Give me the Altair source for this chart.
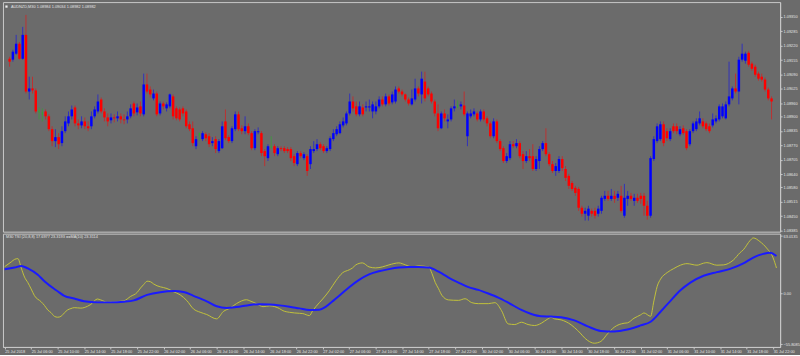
import altair as alt
import pandas as pd

title_main = "AUDNZD,M30  1.08984 1.09034 1.08982 1.08982"
title_ind = "M30 TSI (20,8,8) 17.6977 23.3193   ==MA(10) 23.3114"

x_labels = ["25 Jul 2018", "25 Jul 06:00", "25 Jul 10:00", "25 Jul 14:00", "25 Jul 18:00", "25 Jul 22:00",
            "26 Jul 02:00", "26 Jul 06:00", "26 Jul 10:00", "26 Jul 14:00", "26 Jul 18:00", "26 Jul 22:00",
            "27 Jul 02:00", "27 Jul 06:00", "27 Jul 10:00", "27 Jul 14:00", "27 Jul 18:00", "27 Jul 22:00",
            "30 Jul 02:00", "30 Jul 06:00", "30 Jul 10:00", "30 Jul 14:00", "30 Jul 18:00", "30 Jul 22:00",
            "31 Jul 02:00", "31 Jul 06:00", "31 Jul 10:00", "31 Jul 14:00", "31 Jul 18:00", "31 Jul 22:00"]

price_ticks = [1.09350, 1.09285, 1.09220, 1.09155, 1.09090, 1.09025, 1.08960, 1.08900,
               1.08835, 1.08770, 1.08705, 1.08640, 1.08580, 1.08515, 1.08450, 1.08385]
ind_ticks = [63.0135, 0.0, -55.8085]

opens = [
 1.09161, 1.09157, 1.09184, 1.09229, 1.09161, 1.09269, 1.09013, 1.09027, 1.09018, 1.08923,
 1.08914, 1.08923, 1.08901, 1.08843, 1.08789, 1.08807, 1.08780, 1.08834, 1.08869, 1.08901,
 1.08941, 1.08869, 1.08860, 1.08878, 1.08856, 1.08856, 1.08901, 1.08923, 1.08977, 1.08923,
 1.08896, 1.08883, 1.08896, 1.08892, 1.08901, 1.08887, 1.08887, 1.08901, 1.08959, 1.08919,
 1.08946, 1.08910, 1.09045, 1.09022, 1.08982, 1.09004, 1.08914, 1.08959, 1.08937, 1.08946,
 1.08991, 1.08937, 1.08932, 1.08937, 1.08923, 1.08865, 1.08847, 1.08766, 1.08820, 1.08798,
 1.08820, 1.08811, 1.08780, 1.08798, 1.08744, 1.08757, 1.08878, 1.08807, 1.08789, 1.08843,
 1.08910, 1.08847, 1.08834, 1.08856, 1.08825, 1.08757, 1.08829, 1.08825, 1.08744, 1.08712,
 1.08762, 1.08766, 1.08730, 1.08757, 1.08757, 1.08753, 1.08753, 1.08721, 1.08685, 1.08735,
 1.08712, 1.08721, 1.08685, 1.08744, 1.08753, 1.08775, 1.08766, 1.08744, 1.08753, 1.08798,
 1.08820, 1.08825, 1.08860, 1.08869, 1.08914, 1.08968, 1.08946, 1.08910, 1.08941, 1.08941,
 1.08941, 1.08923, 1.08923, 1.08946, 1.08977, 1.08955, 1.08991, 1.08964, 1.08968, 1.09027,
 1.09013, 1.09000, 1.08977, 1.08955, 1.08977, 1.09027, 1.09000, 1.09058, 1.09027, 1.09004,
 1.08968, 1.08914, 1.08847, 1.08914, 1.08878, 1.08887, 1.08937, 1.08946, 1.08946, 1.08950,
 1.08811, 1.08901, 1.08910, 1.08914, 1.08887, 1.08923, 1.08892, 1.08869, 1.08811, 1.08878,
 1.08789, 1.08757, 1.08699, 1.08712, 1.08775, 1.08766, 1.08780, 1.08730, 1.08699, 1.08721,
 1.08721, 1.08663, 1.08699, 1.08753, 1.08780, 1.08730, 1.08685, 1.08654, 1.08654, 1.08708,
 1.08663, 1.08632, 1.08600, 1.08578, 1.08573, 1.08488, 1.08461, 1.08452, 1.08474, 1.08474,
 1.08461, 1.08474, 1.08528, 1.08542, 1.08528, 1.08542, 1.08533, 1.08542, 1.08452, 1.08528,
 1.08542, 1.08519, 1.08533, 1.08542, 1.08542, 1.08497, 1.08452, 1.08708, 1.08789, 1.08798,
 1.08865, 1.08834, 1.08798, 1.08856, 1.08856, 1.08820, 1.08847, 1.08834, 1.08775, 1.08834,
 1.08843, 1.08869, 1.08878, 1.08869, 1.08856, 1.08860, 1.08878, 1.08887, 1.08901, 1.08892,
 1.08955, 1.08982, 1.09027, 1.09013, 1.09157, 1.09152, 1.09188, 1.09139, 1.09125, 1.09094,
 1.09080, 1.09067, 1.09022, 1.08982]

closes = [
 1.09148, 1.09193, 1.09229, 1.09161, 1.09269, 1.09013, 1.09027, 1.09018, 1.08923, 1.08923,
 1.08914, 1.08901, 1.08843, 1.08789, 1.08807, 1.08775, 1.08834, 1.08878, 1.08901, 1.08932,
 1.08869, 1.08860, 1.08878, 1.08856, 1.08847, 1.08901, 1.08932, 1.08968, 1.08923, 1.08896,
 1.08878, 1.08896, 1.08892, 1.08901, 1.08887, 1.08883, 1.08901, 1.08937, 1.08914, 1.08941,
 1.08914, 1.09045, 1.09013, 1.09000, 1.09004, 1.08910, 1.08959, 1.08946, 1.08955, 1.09000,
 1.08901, 1.08892, 1.08887, 1.08914, 1.08856, 1.08843, 1.08780, 1.08798, 1.08820, 1.08825,
 1.08802, 1.08775, 1.08789, 1.08753, 1.08789, 1.08856, 1.08802, 1.08789, 1.08847, 1.08910,
 1.08843, 1.08834, 1.08856, 1.08825, 1.08757, 1.08834, 1.08834, 1.08735, 1.08721, 1.08766,
 1.08762, 1.08735, 1.08757, 1.08753, 1.08744, 1.08744, 1.08712, 1.08690, 1.08735, 1.08721,
 1.08730, 1.08654, 1.08753, 1.08753, 1.08775, 1.08757, 1.08744, 1.08757, 1.08802, 1.08825,
 1.08843, 1.08865, 1.08878, 1.08914, 1.08968, 1.08937, 1.08910, 1.08946, 1.08910, 1.08946,
 1.08946, 1.08955, 1.08946, 1.08977, 1.08955, 1.08991, 1.08959, 1.09000, 1.09022, 1.09013,
 1.09000, 1.08977, 1.08959, 1.08982, 1.09027, 1.09004, 1.09071, 1.08982, 1.09000, 1.08968,
 1.08914, 1.08847, 1.08914, 1.08892, 1.08887, 1.08937, 1.08946, 1.08946, 1.08955, 1.08910,
 1.08914, 1.08914, 1.08923, 1.08887, 1.08923, 1.08887, 1.08869, 1.08811, 1.08878, 1.08789,
 1.08753, 1.08699, 1.08721, 1.08775, 1.08766, 1.08780, 1.08721, 1.08699, 1.08721, 1.08712,
 1.08663, 1.08708, 1.08753, 1.08780, 1.08730, 1.08685, 1.08654, 1.08676, 1.08708, 1.08667,
 1.08623, 1.08587, 1.08573, 1.08555, 1.08488, 1.08461, 1.08474, 1.08484, 1.08461, 1.08452,
 1.08484, 1.08533, 1.08542, 1.08528, 1.08542, 1.08528, 1.08551, 1.08474, 1.08533, 1.08542,
 1.08528, 1.08533, 1.08519, 1.08528, 1.08497, 1.08452, 1.08712, 1.08798, 1.08856, 1.08865,
 1.08780, 1.08802, 1.08834, 1.08834, 1.08834, 1.08843, 1.08825, 1.08757, 1.08834, 1.08869,
 1.08878, 1.08892, 1.08856, 1.08843, 1.08834, 1.08887, 1.08892, 1.08946, 1.08946, 1.08955,
 1.08991, 1.09027, 1.09013, 1.09157, 1.09184, 1.09184, 1.09134, 1.09116, 1.09089, 1.09071,
 1.09067, 1.09022, 1.08982, 1.08968]

highs = [
 1.09170, 1.09202, 1.09269, 1.09237, 1.09305, 1.09359, 1.09080, 1.09080, 1.09027, 1.08941,
 1.08937, 1.08932, 1.08910, 1.08856, 1.08843, 1.08825, 1.08856, 1.08901, 1.08923, 1.08950,
 1.08950, 1.08887, 1.08901, 1.08896, 1.08878, 1.08923, 1.08946, 1.09000, 1.08986, 1.08937,
 1.08914, 1.08914, 1.08910, 1.08923, 1.08914, 1.08910, 1.08923, 1.08955, 1.08968, 1.08959,
 1.08968, 1.09094, 1.09094, 1.09036, 1.09022, 1.09013, 1.08968, 1.08968, 1.08964, 1.09004,
 1.09000, 1.08946, 1.08941, 1.08946, 1.08932, 1.08878, 1.08878, 1.08811, 1.08829, 1.08834,
 1.08829, 1.08825, 1.08807, 1.08811, 1.08798, 1.08878, 1.08932, 1.08816, 1.08856, 1.08923,
 1.08923, 1.08860, 1.08901, 1.08869, 1.08834, 1.08843, 1.08851, 1.08834, 1.08753, 1.08775,
 1.08811, 1.08775, 1.08766, 1.08766, 1.08766, 1.08762, 1.08762, 1.08730, 1.08744, 1.08744,
 1.08739, 1.08730, 1.08766, 1.08789, 1.08798, 1.08784, 1.08775, 1.08766, 1.08811, 1.08843,
 1.08856, 1.08878, 1.08896, 1.08923, 1.09004, 1.08991, 1.08968, 1.08968, 1.08955, 1.08968,
 1.08977, 1.08968, 1.08968, 1.08991, 1.08991, 1.09004, 1.09000, 1.09013, 1.09036, 1.09036,
 1.09022, 1.09004, 1.08986, 1.09022, 1.09071, 1.09036, 1.09103, 1.09103, 1.09036, 1.09013,
 1.08977, 1.08955, 1.08923, 1.08932, 1.08910, 1.08946, 1.08977, 1.08973, 1.08968, 1.09013,
 1.08923, 1.08932, 1.08937, 1.08923, 1.08932, 1.08932, 1.08901, 1.08878, 1.08892, 1.08887,
 1.08798, 1.08766, 1.08735, 1.08789, 1.08789, 1.08798, 1.08789, 1.08744, 1.08744, 1.08753,
 1.08775, 1.08721, 1.08766, 1.08789, 1.08847, 1.08739, 1.08699, 1.08690, 1.08721, 1.08721,
 1.08676, 1.08641, 1.08609, 1.08587, 1.08582, 1.08497, 1.08488, 1.08497, 1.08484, 1.08488,
 1.08497, 1.08542, 1.08564, 1.08564, 1.08573, 1.08564, 1.08564, 1.08587, 1.08596, 1.08564,
 1.08555, 1.08551, 1.08551, 1.08555, 1.08555, 1.08519, 1.08721, 1.08811, 1.08869, 1.08878,
 1.08878, 1.08847, 1.08847, 1.08869, 1.08869, 1.08856, 1.08860, 1.08843, 1.08843, 1.08878,
 1.08892, 1.08923, 1.08892, 1.08878, 1.08869, 1.08914, 1.08905, 1.08955, 1.08959, 1.08968,
 1.09148, 1.09036, 1.09094, 1.09170, 1.09229, 1.09193, 1.09197, 1.09148, 1.09134, 1.09103,
 1.09094, 1.09076, 1.09031, 1.08991]

lows = [
 1.09125, 1.09148, 1.09179, 1.09157, 1.09157, 1.09004, 1.08977, 1.09004, 1.08914, 1.08887,
 1.08878, 1.08887, 1.08834, 1.08766, 1.08762, 1.08753, 1.08766, 1.08825, 1.08856, 1.08887,
 1.08856, 1.08843, 1.08847, 1.08843, 1.08834, 1.08843, 1.08892, 1.08914, 1.08914, 1.08878,
 1.08856, 1.08869, 1.08874, 1.08878, 1.08869, 1.08865, 1.08869, 1.08892, 1.08901, 1.08905,
 1.08901, 1.08901, 1.09004, 1.08986, 1.08973, 1.08901, 1.08905, 1.08932, 1.08923, 1.08937,
 1.08887, 1.08883, 1.08878, 1.08901, 1.08847, 1.08834, 1.08766, 1.08753, 1.08789, 1.08789,
 1.08789, 1.08762, 1.08766, 1.08735, 1.08735, 1.08753, 1.08793, 1.08780, 1.08780, 1.08834,
 1.08834, 1.08820, 1.08820, 1.08816, 1.08748, 1.08748, 1.08820, 1.08721, 1.08676, 1.08699,
 1.08757, 1.08721, 1.08721, 1.08744, 1.08735, 1.08735, 1.08699, 1.08676, 1.08676, 1.08712,
 1.08703, 1.08632, 1.08663, 1.08735, 1.08744, 1.08748, 1.08735, 1.08735, 1.08744, 1.08789,
 1.08811, 1.08820, 1.08851, 1.08860, 1.08905, 1.08923, 1.08901, 1.08901, 1.08901, 1.08923,
 1.08923, 1.08892, 1.08910, 1.08937, 1.08946, 1.08946, 1.08950, 1.08955, 1.08959, 1.09004,
 1.08991, 1.08968, 1.08950, 1.08950, 1.08968, 1.08991, 1.08959, 1.08968, 1.08991, 1.08959,
 1.08901, 1.08834, 1.08843, 1.08878, 1.08847, 1.08878, 1.08923, 1.08937, 1.08932, 1.08901,
 1.08766, 1.08892, 1.08901, 1.08878, 1.08878, 1.08878, 1.08856, 1.08802, 1.08802, 1.08780,
 1.08744, 1.08690, 1.08690, 1.08703, 1.08757, 1.08757, 1.08712, 1.08663, 1.08690, 1.08699,
 1.08654, 1.08654, 1.08663, 1.08744, 1.08721, 1.08676, 1.08645, 1.08632, 1.08645, 1.08654,
 1.08609, 1.08573, 1.08564, 1.08542, 1.08474, 1.08448, 1.08430, 1.08430, 1.08448, 1.08439,
 1.08448, 1.08461, 1.08519, 1.08519, 1.08519, 1.08510, 1.08519, 1.08466, 1.08443, 1.08497,
 1.08519, 1.08497, 1.08510, 1.08506, 1.08452, 1.08434, 1.08443, 1.08699, 1.08780, 1.08789,
 1.08766, 1.08789, 1.08789, 1.08825, 1.08820, 1.08811, 1.08816, 1.08748, 1.08766, 1.08825,
 1.08834, 1.08860, 1.08847, 1.08834, 1.08825, 1.08851, 1.08869, 1.08878, 1.08892, 1.08887,
 1.08946, 1.08973, 1.09004, 1.08955, 1.09148, 1.09139, 1.09125, 1.09107, 1.09080, 1.09062,
 1.09058, 1.09013, 1.08973, 1.08887]

tsi_points = [
 (0, 29.5), (2, 34.7), (3, 37.5), (4, 38.3), (5, 28), (6, 18), (7, 12), (8, 5), (9, -2.4), (11, -9),
 (12, -13), (13, -18), (14, -21), (15, -25), (16, -26), (17, -25), (18, -21.3), (19, -18), (20, -16.5),
 (21, -15.5), (23, -16), (25, -14), (26, -12), (28, -6), (29, -7), (31, -9.5), (34, -8.9), (36, -8),
 (38, -3.2), (40, 1.2), (41, 6), (42, 10), (43, 13.5), (44, 13), (45, 10.4), (46, 8.5), (48, 6.5),
 (49, 5.5), (51, 2), (53, -1.5), (55, -7.8), (57, -16.9), (59, -20.5), (61, -23), (64, -27.8),
 (66, -19.8), (68, -16), (70, -11), (73, -6.8), (74, -8), (76, -11.1), (78, -14.4), (80, -13.5),
 (83, -16.6), (84, -18.8), (86, -20.6), (89, -21.7), (90, -22), (92, -24.2), (93, -18.8), (95, -10),
 (96, -6), (98, 3.1), (100, 14), (102, 22.7), (104, 26), (105, 28), (106, 31.4), (108, 33.6),
 (110, 29.2), (112, 28.1), (114, 29.2), (116, 31.4), (119, 33.6), (121, 31.4), (123, 29.2), (125, 30.3),
 (128, 29.2), (129, 22), (130, 12), (131, 5.2), (132, -2), (134, -7), (137, -7.5), (139, -5.7),
 (141, -10), (143, -11.1), (146, -11.1), (148, -10), (150, -18.8), (152, -33.3), (154, -34),
 (156, -31.5), (158, -34), (160, -35.1), (162, -32.6), (164, -27.8), (165, -26.1), (166, -27.8),
 (168, -28.9), (171, -34.3), (173, -40.6), (176, -51.5), (178, -54.5), (180, -52.5), (182, -44.2),
 (184, -37), (187, -32.6), (188, -32.2), (190, -27.1), (192, -23.4), (193, -21.3), (195, -25),
 (196, -8), (197, 8), (198, 15.8), (200, 23), (202, 27.4), (204, 31.1), (206, 32.8), (209, 31.1),
 (211, 33.3), (212, 33.9), (215, 31.1), (217, 31.4), (220, 36.8), (222, 44.8), (223, 48), (225, 58),
 (226, 61), (228, 57), (230, 50), (232, 39), (233, 28)]

ma_points = [
 (0, 26.7), (3, 28.5), (5, 30.3), (7, 27.5), (10, 20.5), (12, 13.5), (15, 5), (16, 2.5), (18, -2.5),
 (21, -5.5), (24, -8.5), (28, -9.7), (32, -9.7), (36, -9), (39, -7.5), (43, -1.5), (47, 1.5), (51, 2.7),
 (54, 1.7), (57, -2.5), (61, -8.5), (64, -14), (67, -15.8), (70, -14.8), (74, -12.5), (77, -11.7),
 (80, -12), (83, -13), (86, -14.5), (89, -16.3), (92, -18), (95, -17.7), (97, -14.4), (99, -8.5),
 (101, -2.5), (104, 7), (107, 15), (110, 21), (113, 24.5), (116, 26.8), (119, 28.5), (122, 29.2),
 (125, 29.2), (128, 28.5), (131, 24), (134, 17.5), (137, 12), (140, 7), (143, 4), (146, 0), (149, -4.5),
 (152, -10), (156, -18), (159, -22.5), (162, -25), (165, -25.3), (168, -26), (172, -29.5), (176, -36),
 (180, -41), (184, -41.6), (188, -39.5), (192, -35), (195, -31), (198, -20), (201, -8), (204, 3.5),
 (207, 12), (211, 19.5), (215, 23.5), (219, 27), (223, 33), (226, 39.5), (229, 43.5), (231, 44.8),
 (233, 41.2)]

BG = "#6b6b6b"
FG = "#e4e4e4"
AX = "#c8c8c8"
FONT = "Liberation Sans"
FS = 3.9

n = len(opens)
df = pd.DataFrame({"bar": list(range(n)), "open": opens, "close": closes, "high": highs, "low": lows})
df["dir"] = ["up" if c > o else ("down" if c < o else "doji") for o, c in zip(opens, closes)]

tsi_df = pd.DataFrame(tsi_points, columns=["bar", "v"])
ma_df = pd.DataFrame(ma_points, columns=["bar", "v"])

xscale = alt.Scale(domain=[-0.51, 234.1], nice=False, zero=False)
pscale = alt.Scale(domain=[1.08380, 1.09417], nice=False, zero=False)
iscale = alt.Scale(domain=[-58.6, 65.7], nice=False, zero=False)
color = alt.Color("dir:N", scale=alt.Scale(domain=["up", "down", "doji"],
                                           range=["#0000ff", "#ff0000", "#22b822"]), legend=None)


def y_axis_main():
    return alt.Axis(orient="right", values=price_ticks, format=".5f", title=None, grid=False,
                    domainColor=AX, tickColor=AX, tickSize=2, labelFontSize=FS, labelColor=FG,
                    labelFont=FONT, labelPadding=1, labelBaseline="middle", labelOverlap=False,
                    labelFlush=False, labelBound=False)


label_js = "[" + ",".join("'" + s + "'" for s in x_labels) + "][round(datum.value / 8)]"


def x_axis_ind():
    return alt.Axis(values=list(range(0, 8 * len(x_labels), 8)), labelExpr=label_js, title=None, grid=False,
                    labelAlign="left", labelFontSize=FS, labelColor=FG, labelFont=FONT, tickSize=2,
                    labelPadding=0.5, domainColor=AX, tickColor=AX, labelOverlap=False, labelFlush=False,
                    labelBound=False)


def y_axis_ind():
    return alt.Axis(orient="right", values=ind_ticks,
                    labelExpr="datum.value == 0 ? '0.00' : format(datum.value, '.4f')",
                    title=None, grid=False, domainColor=AX, tickColor=AX, tickSize=2, labelFontSize=FS,
                    labelColor=FG, labelFont=FONT, labelPadding=1, labelBaseline="middle",
                    labelOverlap=False, labelFlush=False, labelBound=False)


base = alt.Chart(df)
wick = base.mark_rule(strokeWidth=0.9, opacity=0.6).encode(
    x=alt.X("bar:Q", scale=xscale, axis=None),
    y=alt.Y("low:Q", scale=pscale, axis=y_axis_main()),
    y2="high:Q",
    color=color)
body = base.mark_bar(size=2.5).encode(
    x=alt.X("bar:Q", scale=xscale, axis=None),
    y=alt.Y("open:Q", scale=pscale, axis=y_axis_main()),
    y2="close:Q",
    color=color)
doji = base.transform_filter(alt.datum.dir == "doji").mark_tick(thickness=1, size=2.5, color="#22b822").encode(
    x=alt.X("bar:Q", scale=xscale, axis=None),
    y=alt.Y("open:Q", scale=pscale, axis=y_axis_main()))
title1 = alt.Chart(pd.DataFrame({"t": [title_main]})).mark_text(
    align="left", baseline="middle", fontSize=FS, font=FONT, color=FG).encode(
    x=alt.value(8), y=alt.value(4.5), text="t:N")
icon = alt.Chart(pd.DataFrame({"t": [title_main]})).mark_square(size=5, color="#f0f0f0", opacity=1).encode(
    x=alt.value(3.5), y=alt.value(4.5))

main = alt.layer(wick, body, doji, title1, icon).properties(width=782, height=231)

tsi_line = alt.Chart(tsi_df).mark_line(color="#c2c23a", strokeWidth=1, interpolate="monotone").encode(
    x=alt.X("bar:Q", scale=xscale, axis=x_axis_ind()),
    y=alt.Y("v:Q", scale=iscale, axis=y_axis_ind()))
ma_line = alt.Chart(ma_df).mark_line(color="#1a1aff", strokeWidth=2, interpolate="monotone").encode(
    x=alt.X("bar:Q", scale=xscale, axis=x_axis_ind()),
    y=alt.Y("v:Q", scale=iscale, axis=y_axis_ind()))
title2 = alt.Chart(pd.DataFrame({"t": [title_ind]})).mark_text(
    align="left", baseline="middle", fontSize=FS, font=FONT, color=FG).encode(
    x=alt.value(3), y=alt.value(3.5), text="t:N")

lower = alt.layer(tsi_line, ma_line, title2).properties(width=782, height=114)

chart = alt.vconcat(main, lower, spacing=2, bounds="flush").properties(
    padding=0, background=BG
).configure_view(stroke=AX, strokeWidth=1, fill=BG)

chart.save("out.html", embed_options={"renderer": "svg", "actions": False})
